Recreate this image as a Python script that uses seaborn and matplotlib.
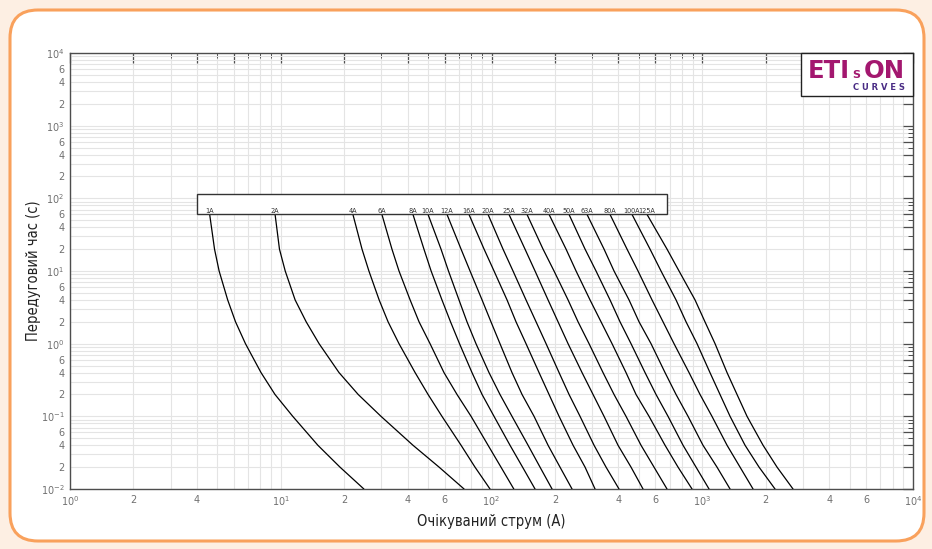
import pandas as pd
import matplotlib
matplotlib.use("Agg")
import matplotlib.pyplot as plt
import matplotlib.transforms as mtransforms
import seaborn as sns
from matplotlib.patches import FancyBboxPatch, Rectangle
from matplotlib.ticker import FixedLocator, FixedFormatter, NullFormatter

# tempi di pre-arco (s), comuni a tutte le curve
tempi = [60, 20, 10, 4, 2, 1, 0.4, 0.2, 0.1, 0.04, 0.02, 0.01]

# correnti (A) lette per ogni taratura ai tempi sopra
i_1A = [4.6, 4.85, 5.1, 5.6, 6.1, 6.8, 8.06, 9.39, 11.4, 15.0, 19.1, 24.8]
i_2A = [9.4, 9.86, 10.5, 11.7, 13.2, 15.2, 18.9, 23.3, 29.9, 42.4, 56.4, 74.1]
i_4A = [22.0, 24.3, 26.2, 29.3, 32.3, 36.4, 43.4, 50.0, 58.2, 71.7, 83.5, 98.4]
i_6A = [30.2, 33.7, 36.4, 41.1, 45.3, 51.1, 59.5, 68.6, 80.0, 96.3, 110.9, 127.6]
i_8A = [42.4, 47.8, 51.7, 58.2, 63.9, 70.5, 80.8, 90.2, 102.8, 122.4, 140.4, 160.9]
i_10A = [50.0, 57.6, 62.5, 70.1, 76.5, 84.4, 97.3, 109.7, 125.1, 149.1, 169.9, 193.8]
i_12A = [61.5, 71.7, 79.1, 90.2, 99.4, 109.7, 125.1, 139.6, 159.2, 185.5, 211.4, 241.1]
i_16A = [78.2, 92.2, 102.8, 118.5, 130.7, 145.8, 168.1, 187.5, 209.2, 243.8, 277.9, 310.0]
i_20A = [96.3, 113.4, 126.5, 145.8, 162.7, 181.5, 209.2, 233.3, 263.1, 306.6, 349.5, 402.8]
i_25A = [121.1, 144.2, 160.9, 185.5, 206.9, 230.8, 268.9, 303.2, 342.0, 398.4, 459.2, 523.6]
i_32A = [147.4, 175.6, 198.0, 230.8, 257.4, 290.3, 338.2, 381.4, 434.8, 512.2, 590.4, 680.5]
i_40A = [187.6, 225.8, 251.9, 293.4, 330.9, 373.2, 434.8, 485.0, 559.1, 665.9, 767.5, 894.4]
i_50A = [233.3, 277.9, 313.3, 365.1, 407.2, 459.2, 535.2, 603.4, 688.0, 810.6, 934.3, 1077]
i_63A = [284.0, 342.0, 381.4, 449.3, 501.2, 571.4, 665.9, 750.9, 856.1, 1008, 1175, 1355]
i_80A = [365.1, 439.6, 495.7, 577.6, 651.4, 734.6, 865.5, 975.9, 1112, 1311, 1511, 1742]
i_100A = [464.3, 565.2, 637.3, 750.9, 837.6, 944.5, 1088, 1214, 1355, 1596, 1860, 2215]
i_125A = [547.0, 680.5, 775.9, 924.2, 1030, 1150, 1311, 1462, 1631, 1943, 2264, 2696]

tarature = ["1A", "2A", "4A", "6A", "8A", "10A", "12A", "16A", "20A", "25A",
            "32A", "40A", "50A", "63A", "80A", "100A", "125A"]
curve = [i_1A, i_2A, i_4A, i_6A, i_8A, i_10A, i_12A, i_16A, i_20A, i_25A,
         i_32A, i_40A, i_50A, i_63A, i_80A, i_100A, i_125A]

# dataframe in formato lungo per seaborn
righe = []
for nome, correnti in zip(tarature, curve):
    for c, t in zip(correnti, tempi):
        righe.append((nome, c, t))
df = pd.DataFrame(righe, columns=["taratura", "corrente", "tempo"])

sns.set_style("white")
plt.rcParams["font.family"] = ["DejaVu Sans"]
plt.rcParams["mathtext.default"] = "regular"

W, H = 932, 549
fig = plt.figure(figsize=(W / 100, H / 100), dpi=100)
fig.patch.set_facecolor("#fdefe3")

# cornice arrotondata arancione (in pixel)
cornice = FancyBboxPatch((10, 8), 914, 531, boxstyle="round,pad=0,rounding_size=28",
                         transform=mtransforms.IdentityTransform(),
                         fc="white", ec="#f9a15c", lw=2.2, zorder=-5)
fig.patches.append(cornice)

ax = fig.add_axes([70 / W, 60 / H, 843 / W, 436 / H])
ax.set_zorder(1)
ax.set_facecolor("white")
ax.set_xscale("log")
ax.set_yscale("log")

sns.lineplot(data=df, x="corrente", y="tempo", units="taratura", estimator=None,
             sort=False, color="black", linewidth=0.9, legend=False, ax=ax, zorder=3)

ax.set_xlim(1, 1e4)
ax.set_ylim(1e-2, 1e4)


def tacche(lo, hi, salta6=()):
    pos, lab, minori = [], [], []
    for n in range(lo, hi):
        b = 10.0 ** n
        pos += [b, 2 * b, 4 * b, 6 * b]
        lab += ["$10^{%d}$" % n, "2", "4", "" if n in salta6 else "6"]
        minori += [3 * b, 5 * b, 7 * b, 8 * b, 9 * b]
    pos.append(10.0 ** hi)
    lab.append("$10^{%d}$" % hi)
    return pos, lab, minori


xp, xl, xm = tacche(0, 4, salta6=(0,))
yp, yl, ym = tacche(-2, 4)
ax.xaxis.set_major_locator(FixedLocator(xp))
ax.xaxis.set_major_formatter(FixedFormatter(xl))
ax.xaxis.set_minor_locator(FixedLocator(xm))
ax.xaxis.set_minor_formatter(NullFormatter())
ax.yaxis.set_major_locator(FixedLocator(yp))
ax.yaxis.set_major_formatter(FixedFormatter(yl))
ax.yaxis.set_minor_locator(FixedLocator(ym))
ax.yaxis.set_minor_formatter(NullFormatter())

ax.tick_params(which="both", direction="in", top=True, right=True,
               color="#4d4d4d", labelcolor="#707070", labelsize=7, pad=4)
ax.tick_params(which="major", length=7, width=0.9)
ax.tick_params(which="minor", length=3.5, width=0.7)
ax.grid(which="both", color="#e4e4e4", lw=0.8)
ax.set_axisbelow(True)
for s in ax.spines.values():
    s.set_color("#4d4d4d")
    s.set_linewidth(1.0)

ax.set_xlabel("Очікуваний струм (А)", fontsize=10.5, fontstretch="condensed",
              color="#222222", labelpad=4)
ax.set_ylabel("Передуговий час (с)", fontsize=10.5, fontstretch="condensed",
              color="#222222", labelpad=0)

# riquadro con le etichette delle tarature
ax.add_patch(Rectangle((4, 60), 676, 55, fc="white", ec="#333333", lw=1, zorder=4))
for nome, correnti in zip(tarature, curve):
    ax.text(correnti[0], 63, nome, ha="center", va="baseline", fontsize=5.2,
            fontstretch="condensed", color="#333333", zorder=5)

# logo ETIsON in alto a destra
ax.add_patch(Rectangle((0.867, 0.901), 0.133, 0.099, transform=ax.transAxes,
                       fc="white", ec="#222222", lw=1, zorder=6, clip_on=False))
magenta = "#a3176f"
fig.text(808 / W, 1 - 78 / H, "ETI", fontsize=17.5, fontweight="bold", color=magenta,
         ha="left", va="baseline", zorder=10)
fig.text(856 / W, 1 - 78 / H, "S", fontsize=8, fontweight="bold", color=magenta,
         ha="center", va="baseline", zorder=10)
fig.text(905 / W, 1 - 78 / H, "ON", fontsize=17.5, fontweight="bold", color=magenta,
         ha="right", va="baseline", zorder=10)
fig.text(905 / W, 1 - 90 / H, "C U R V E S", fontsize=6, fontweight="bold",
         color="#4a2c85", ha="right", va="baseline", zorder=10)

fig.savefig("out.png", dpi=100, facecolor=fig.get_facecolor())
plt.close(fig)
